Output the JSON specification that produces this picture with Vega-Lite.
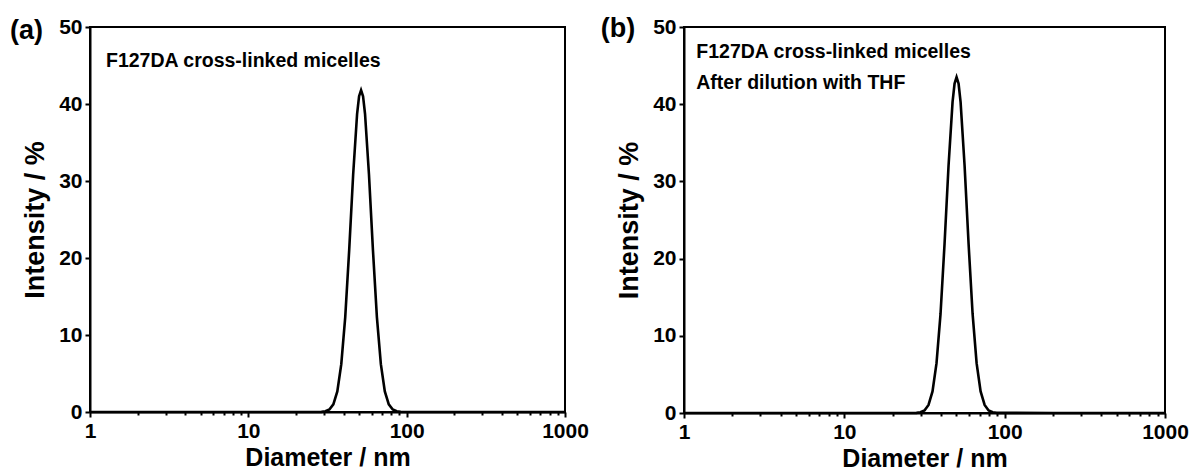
{
  "$schema": "https://vega.github.io/schema/vega-lite/v6.json",
  "padding": {"left": 9, "top": 14, "right": 0, "bottom": 0},
  "spacing": 9,
  "datasets": {
    "a": [
      {"diameter": 1, "intensity": 0}, {"diameter": 10, "intensity": 0},
      {"diameter": 28.97, "intensity": 0.02}, {"diameter": 30.69, "intensity": 0.09},
      {"diameter": 32.51, "intensity": 0.32}, {"diameter": 34.43, "intensity": 0.99},
      {"diameter": 36.48, "intensity": 2.68}, {"diameter": 38.64, "intensity": 6.21},
      {"diameter": 40.93, "intensity": 12.33}, {"diameter": 43.35, "intensity": 21.03},
      {"diameter": 45.92, "intensity": 30.81}, {"diameter": 48.64, "intensity": 38.73},
      {"diameter": 50.06, "intensity": 41.01}, {"diameter": 51.52, "intensity": 41.8},
      {"diameter": 53.03, "intensity": 41.01}, {"diameter": 54.58, "intensity": 38.73},
      {"diameter": 57.81, "intensity": 30.81}, {"diameter": 61.24, "intensity": 21.03},
      {"diameter": 64.86, "intensity": 12.33}, {"diameter": 68.71, "intensity": 6.21},
      {"diameter": 72.78, "intensity": 2.68}, {"diameter": 77.09, "intensity": 0.99},
      {"diameter": 81.66, "intensity": 0.32}, {"diameter": 86.5, "intensity": 0.09},
      {"diameter": 91.62, "intensity": 0.02}, {"diameter": 200, "intensity": 0},
      {"diameter": 1000, "intensity": 0}
    ],
    "b": [
      {"diameter": 1, "intensity": 0}, {"diameter": 10, "intensity": 0},
      {"diameter": 28.18, "intensity": 0.02}, {"diameter": 29.85, "intensity": 0.09},
      {"diameter": 31.62, "intensity": 0.33}, {"diameter": 33.5, "intensity": 1.04},
      {"diameter": 35.48, "intensity": 2.79}, {"diameter": 37.58, "intensity": 6.46},
      {"diameter": 39.81, "intensity": 12.83}, {"diameter": 42.17, "intensity": 21.89},
      {"diameter": 44.67, "intensity": 32.06}, {"diameter": 47.32, "intensity": 40.3},
      {"diameter": 48.7, "intensity": 42.68}, {"diameter": 50.12, "intensity": 43.5},
      {"diameter": 51.58, "intensity": 42.68}, {"diameter": 53.09, "intensity": 40.3},
      {"diameter": 56.23, "intensity": 32.06}, {"diameter": 59.57, "intensity": 21.89},
      {"diameter": 63.1, "intensity": 12.83}, {"diameter": 66.83, "intensity": 6.46},
      {"diameter": 70.79, "intensity": 2.79}, {"diameter": 74.99, "intensity": 1.04},
      {"diameter": 79.43, "intensity": 0.33}, {"diameter": 84.14, "intensity": 0.09},
      {"diameter": 89.13, "intensity": 0.02}, {"diameter": 200, "intensity": 0},
      {"diameter": 1000, "intensity": 0}
    ]
  },
  "hconcat": [
    {
      "width": 475,
      "height": 385,
      "layer": [
        {
          "data": {"name": "a"},
          "mark": {"type": "line", "color": "black", "strokeWidth": 2.6},
          "encoding": {
            "x": {
              "field": "diameter", "type": "quantitative", "title": "Diameter / nm",
              "scale": {"type": "log", "domain": [1, 1000], "nice": false},
              "axis": {
                "values": [1,2,3,4,5,6,7,8,9,10,20,30,40,50,60,70,80,90,100,200,300,400,500,600,700,800,900,1000],
                "format": "d",
                "labelExpr": "(datum.value == 1 || datum.value == 10 || datum.value == 100 || datum.value == 1000) ? datum.label : ''",
                "tickSize": {"condition": {"test": "datum.value == 1 || datum.value == 10 || datum.value == 100 || datum.value == 1000", "value": 5}, "value": 3},
                "labelFontWeight": 700,
                "labelFontSize": 21,
                "labelPadding": 3,
                "titlePadding": 4,
                "titleFontSize": 25
              }
            },
            "y": {
              "field": "intensity", "type": "quantitative", "title": "Intensity / %",
              "scale": {"domain": [0, 50], "nice": false},
              "axis": {
                "values": [0,5,10,15,20,25,30,35,40,45,50],
                "labelExpr": "datum.value % 10 == 0 ? datum.label : ''",
                "tickSize": {"condition": {"test": "datum.value % 10 == 0", "value": 5}, "value": 3},
                "labelFontWeight": 700,
                "labelFontSize": 21,
                "labelPadding": 3,
                "titlePadding": 9,
                "titleFontSize": 27
              }
            }
          }
        },
        {
          "data": {"values": [{}]},
          "mark": {"type": "text", "align": "left", "baseline": "alphabetic", "fontSize": 19.5, "fontWeight": "bold", "color": "black"},
          "encoding": {"x": {"datum": 1.262}, "y": {"datum": 44.8}, "text": {"value": "F127DA cross-linked micelles"}}
        },
        {
          "data": {"values": [{}]},
          "mark": {"type": "text", "align": "left", "baseline": "alphabetic", "fontSize": 27, "fontWeight": "bold", "color": "black"},
          "encoding": {"x": {"datum": 0.3126}, "y": {"datum": 48.4}, "text": {"value": "(a)"}}
        }
      ]
    },
    {
      "width": 481,
      "height": 386,
      "layer": [
        {
          "data": {"name": "b"},
          "mark": {"type": "line", "color": "black", "strokeWidth": 2.6},
          "encoding": {
            "x": {
              "field": "diameter", "type": "quantitative", "title": "Diameter / nm",
              "scale": {"type": "log", "domain": [1, 1000], "nice": false},
              "axis": {
                "values": [1,2,3,4,5,6,7,8,9,10,20,30,40,50,60,70,80,90,100,200,300,400,500,600,700,800,900,1000],
                "format": "d",
                "labelExpr": "(datum.value == 1 || datum.value == 10 || datum.value == 100 || datum.value == 1000) ? datum.label : ''",
                "tickSize": {"condition": {"test": "datum.value == 1 || datum.value == 10 || datum.value == 100 || datum.value == 1000", "value": 5}, "value": 3},
                "labelFontWeight": 700,
                "labelFontSize": 21,
                "labelPadding": 3,
                "titlePadding": 4,
                "titleFontSize": 25
              }
            },
            "y": {
              "field": "intensity", "type": "quantitative", "title": "Intensity / %",
              "scale": {"domain": [0, 50], "nice": false},
              "axis": {
                "values": [0,5,10,15,20,25,30,35,40,45,50],
                "labelExpr": "datum.value % 10 == 0 ? datum.label : ''",
                "tickSize": {"condition": {"test": "datum.value % 10 == 0", "value": 5}, "value": 3},
                "labelFontWeight": 700,
                "labelFontSize": 21,
                "labelPadding": 3,
                "titlePadding": 9,
                "titleFontSize": 27
              }
            }
          }
        },
        {
          "data": {"values": [{}]},
          "mark": {"type": "text", "align": "left", "baseline": "alphabetic", "fontSize": 19.5, "fontWeight": "bold", "color": "black"},
          "encoding": {"x": {"datum": 1.193}, "y": {"datum": 46.0}, "text": {"value": "F127DA cross-linked micelles"}}
        },
        {
          "data": {"values": [{}]},
          "mark": {"type": "text", "align": "left", "baseline": "alphabetic", "fontSize": 19.5, "fontWeight": "bold", "color": "black"},
          "encoding": {"x": {"datum": 1.193}, "y": {"datum": 42.0}, "text": {"value": "After dilution with THF"}}
        },
        {
          "data": {"values": [{}]},
          "mark": {"type": "text", "align": "left", "baseline": "alphabetic", "fontSize": 27, "fontWeight": "bold", "color": "black"},
          "encoding": {"x": {"datum": 0.303}, "y": {"datum": 48.7}, "text": {"value": "(b)"}}
        }
      ]
    }
  ],
  "config": {
    "font": "Liberation Sans",
    "view": {"stroke": "black", "strokeWidth": 2},
    "axis": {
      "grid": false,
      "domainColor": "black",
      "domainWidth": 2,
      "tickColor": "black",
      "tickWidth": 2,
      "labelColor": "black",
      "titleColor": "black",
      "labelFont": "Liberation Sans",
      "titleFont": "Liberation Sans",
      "titleFontWeight": "bold",
      "labelFlush": false,
      "labelOverlap": false
    }
  }
}
